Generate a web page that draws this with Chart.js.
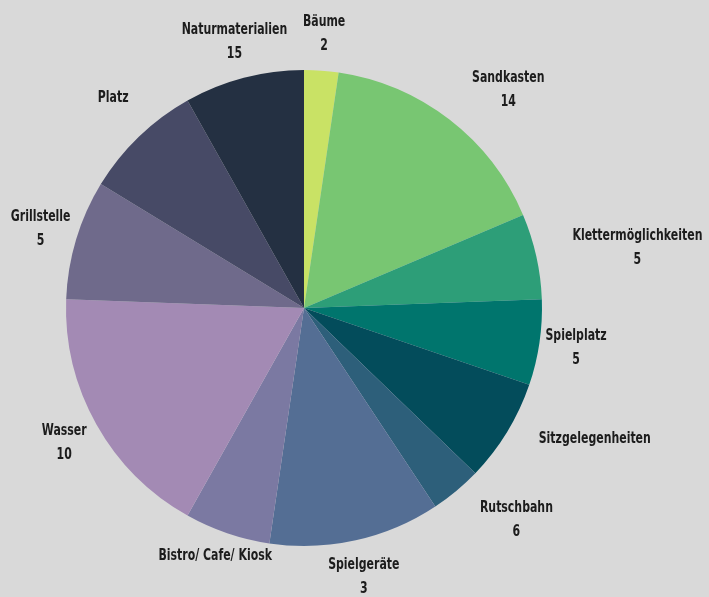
<!DOCTYPE html>
<html>
<head>
<meta charset="utf-8">
<script src="https://cdn.jsdelivr.net/npm/chart.js@4"></script>
<style>
  html, body { margin: 0; padding: 0; background: #d9d9d9; }
  #wrap { width: 709px; height: 597px; }
</style>
</head>
<body>
<div id="wrap"><canvas id="pie"></canvas></div>
<script>
// Spielplatz wishes - slice values
const categories = ['Bäume', 'Sandkasten', 'Klettermöglichkeiten', 'Spielplatz', 'Sitzgelegenheiten',
    'Rutschbahn', 'Spielgeräte', 'Bistro/ Cafe/ Kiosk', 'Wasser', 'Grillstelle', 'Platz', 'Naturmaterialien'];
const values = [2, 14, 5, 5, 6, 3, 10, 5, 15, 7, 7, 7];
// numbers as printed under the names in the picture
const shownNumbers = ['2', '14', '5', '5', '', '6', '3', '', '10', '5', '', '15'];
const sliceColors = ['#c9e265', '#78c672', '#2d9e78', '#00756d', '#034c5b', '#2d5f7a',
    '#546e94', '#7b79a2', '#a38ab4', '#6f6a8b', '#474a66', '#243042'];

const LABEL_FONT = "bold 16px 'DejaVu Sans Condensed', 'DejaVu Sans', sans-serif";
const NARROW = 0.76;   // squeeze to look like a condensed face

// labels: two line block on the mid angle, pushed to the side if it would cover the pie
const outsideLabels = {
    id: 'outsideLabels',
    afterDatasetsDraw(chart) {
        const ctx = chart.ctx;
        const meta = chart.getDatasetMeta(0);
        ctx.save();
        ctx.font = LABEL_FONT;
        ctx.fillStyle = '#1c1c1c';
        ctx.textBaseline = 'middle';
        ctx.textAlign = 'center';
        meta.data.forEach(function (arc, i) {
            const p = arc.getProps(['x', 'y', 'startAngle', 'endAngle', 'outerRadius'], true);
            const mid = (p.startAngle + p.endAngle) / 2;
            const r = p.outerRadius + 37;
            const ax = p.x + Math.cos(mid) * r;
            const ay = p.y + Math.sin(mid) * r;
            const w = NARROW * Math.max(ctx.measureText(categories[i]).width, ctx.measureText(shownNumbers[i]).width);
            const hh = 20;
            let cx = ax;
            // nearest point of the box to the centre
            const nx = Math.min(Math.max(p.x, cx - w / 2), cx + w / 2);
            const ny = Math.min(Math.max(p.y, ay - hh), ay + hh);
            if (Math.hypot(nx - p.x, ny - p.y) < p.outerRadius) {
                cx = ax > p.x ? ax + w / 2 : ax - w / 2;
            }
            ctx.save();
            ctx.translate(cx, ay);
            ctx.scale(NARROW, 1);
            ctx.fillText(categories[i], 0, -12);
            if (shownNumbers[i]) ctx.fillText(shownNumbers[i], 0, 12);
            ctx.restore();
        });
        ctx.restore();
    }
};

new Chart(document.getElementById('pie'), {
    type: 'pie',
    data: {
        labels: categories,
        datasets: [{
            data: values,
            backgroundColor: sliceColors,
            borderWidth: 0
        }]
    },
    options: {
        responsive: true,
        maintainAspectRatio: false,
        animation: false,
        layout: {
            padding: { left: 66, right: 167, top: 70, bottom: 51 }
        },
        plugins: {
            legend: { display: false },
            tooltip: { enabled: false }
        }
    },
    plugins: [outsideLabels]
});
</script>
</body>
</html>
